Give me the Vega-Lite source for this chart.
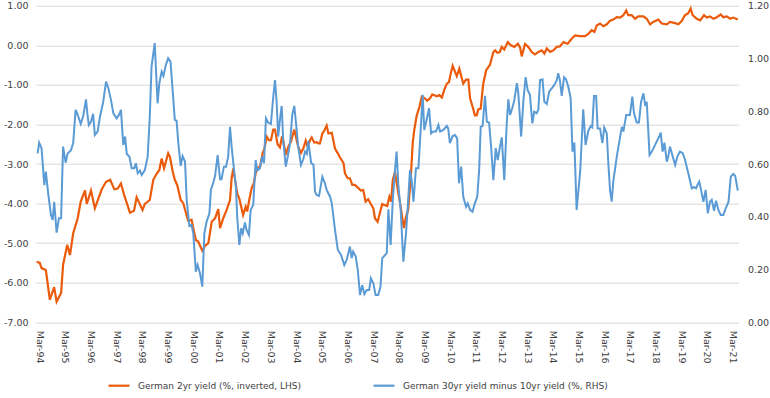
{
  "$schema": "https://vega.github.io/schema/vega-lite/v6.json",
  "width": 702.5,
  "height": 316.6,
  "autosize": {"type": "none"},
  "padding": {"left": 36, "top": 5.7, "right": 31.5, "bottom": 75.7},
  "background": "white",
  "config": {
    "font": "DejaVu Sans",
    "view": {"stroke": null},
    "axis": {"labelFont": "DejaVu Sans", "labelFontSize": 9.5, "labelColor": "#404040", "domain": false, "ticks": false, "title": null, "grid": false}
  },
  "datasets": {
    "de2y": [
      {"date":"1994-03-01","value":-5.47},{"date":"1994-04-15","value":-5.50},{"date":"1994-05-10","value":-5.63},{"date":"1994-07-10","value":-5.68},{"date":"1994-09-05","value":-6.43},{"date":"1994-11-05","value":-6.11},{"date":"1994-12-10","value":-6.48},{"date":"1995-02-12","value":-6.26},{"date":"1995-03-12","value":-5.55},{"date":"1995-05-10","value":-5.04},{"date":"1995-06-18","value":-5.30},{"date":"1995-08-03","value":-4.75},{"date":"1995-10-06","value":-4.37},{"date":"1995-11-18","value":-3.95},{"date":"1996-01-18","value":-3.67},{"date":"1996-02-12","value":-4.01},{"date":"1996-04-12","value":-3.67},{"date":"1996-06-06","value":-4.12},{"date":"1996-09-12","value":-3.64},{"date":"1996-11-12","value":-3.45},{"date":"1997-01-10","value":-3.40},{"date":"1997-03-10","value":-3.64},{"date":"1997-04-27","value":-3.62},{"date":"1997-06-12","value":-3.49},{"date":"1997-07-27","value":-3.78},{"date":"1997-10-18","value":-4.23},{"date":"1997-12-15","value":-4.18},{"date":"1998-01-21","value":-3.84},{"date":"1998-04-15","value":-4.16},{"date":"1998-05-18","value":-4.01},{"date":"1998-07-27","value":-3.91},{"date":"1998-09-15","value":-3.40},{"date":"1998-11-03","value":-3.24},{"date":"1998-12-10","value":-3.15},{"date":"1999-01-12","value":-2.86},{"date":"1999-02-15","value":-3.11},{"date":"1999-04-15","value":-2.73},{"date":"1999-05-10","value":-2.82},{"date":"1999-06-18","value":-3.19},{"date":"1999-07-18","value":-3.40},{"date":"1999-08-21","value":-3.53},{"date":"1999-10-10","value":-3.91},{"date":"1999-11-15","value":-3.99},{"date":"1999-12-24","value":-4.24},{"date":"2000-01-24","value":-4.43},{"date":"2000-03-12","value":-4.41},{"date":"2000-05-12","value":-4.92},{"date":"2000-06-15","value":-4.96},{"date":"2000-08-12","value":-5.19},{"date":"2000-09-18","value":-5.07},{"date":"2000-11-06","value":-5.00},{"date":"2000-12-24","value":-4.46},{"date":"2001-02-10","value":-4.37},{"date":"2001-03-27","value":-4.14},{"date":"2001-04-21","value":-4.62},{"date":"2001-06-06","value":-4.37},{"date":"2001-07-24","value":-4.16},{"date":"2001-09-10","value":-3.91},{"date":"2001-10-03","value":-3.36},{"date":"2001-10-27","value":-3.11},{"date":"2001-11-21","value":-3.40},{"date":"2001-12-21","value":-3.74},{"date":"2002-01-21","value":-3.88},{"date":"2002-03-15","value":-4.29},{"date":"2002-04-21","value":-4.08},{"date":"2002-05-12","value":-4.20},{"date":"2002-06-10","value":-3.91},{"date":"2002-07-15","value":-3.61},{"date":"2002-08-15","value":-3.48},{"date":"2002-09-24","value":-3.11},{"date":"2002-11-10","value":-3.07},{"date":"2002-12-18","value":-2.73},{"date":"2003-01-12","value":-2.61},{"date":"2003-02-15","value":-2.31},{"date":"2003-03-18","value":-2.40},{"date":"2003-04-15","value":-2.40},{"date":"2003-05-18","value":-2.13},{"date":"2003-06-12","value":-2.13},{"date":"2003-07-18","value":-2.50},{"date":"2003-08-21","value":-2.58},{"date":"2003-09-15","value":-2.35},{"date":"2003-10-06","value":-2.40},{"date":"2003-11-12","value":-2.77},{"date":"2003-12-18","value":-2.56},{"date":"2004-01-24","value":-2.44},{"date":"2004-03-12","value":-2.13},{"date":"2004-04-15","value":-2.40},{"date":"2004-05-06","value":-2.56},{"date":"2004-06-15","value":-2.72},{"date":"2004-07-18","value":-2.61},{"date":"2004-08-21","value":-2.41},{"date":"2004-09-18","value":-2.56},{"date":"2004-10-21","value":-2.40},{"date":"2004-11-15","value":-2.33},{"date":"2004-12-21","value":-2.46},{"date":"2005-01-24","value":-2.45},{"date":"2005-02-18","value":-2.48},{"date":"2005-03-12","value":-2.48},{"date":"2005-04-15","value":-2.23},{"date":"2005-05-12","value":-2.16},{"date":"2005-06-15","value":-2.03},{"date":"2005-07-10","value":-2.23},{"date":"2005-08-27","value":-2.21},{"date":"2005-09-18","value":-2.40},{"date":"2005-10-12","value":-2.61},{"date":"2005-11-21","value":-2.73},{"date":"2005-12-21","value":-2.83},{"date":"2006-02-10","value":-2.98},{"date":"2006-03-03","value":-3.24},{"date":"2006-04-10","value":-3.36},{"date":"2006-05-12","value":-3.36},{"date":"2006-06-15","value":-3.53},{"date":"2006-07-21","value":-3.53},{"date":"2006-09-10","value":-3.61},{"date":"2006-10-15","value":-3.67},{"date":"2006-11-18","value":-3.66},{"date":"2006-12-21","value":-3.95},{"date":"2007-01-27","value":-3.89},{"date":"2007-03-06","value":-4.01},{"date":"2007-04-10","value":-4.12},{"date":"2007-05-03","value":-4.37},{"date":"2007-06-10","value":-4.46},{"date":"2007-07-12","value":-4.24},{"date":"2007-08-15","value":-4.01},{"date":"2007-09-24","value":-4.04},{"date":"2007-10-24","value":-4.06},{"date":"2007-11-24","value":-3.83},{"date":"2007-12-18","value":-3.95},{"date":"2008-01-12","value":-3.40},{"date":"2008-02-12","value":-3.20},{"date":"2008-03-15","value":-3.57},{"date":"2008-04-24","value":-3.99},{"date":"2008-06-18","value":-4.62},{"date":"2008-07-18","value":-4.33},{"date":"2008-08-18","value":-4.16},{"date":"2008-09-24","value":-3.32},{"date":"2008-10-21","value":-2.48},{"date":"2008-11-12","value":-2.14},{"date":"2008-12-18","value":-1.77},{"date":"2009-01-24","value":-1.56},{"date":"2009-02-27","value":-1.30},{"date":"2009-04-12","value":-1.34},{"date":"2009-05-15","value":-1.40},{"date":"2009-06-24","value":-1.34},{"date":"2009-07-27","value":-1.24},{"date":"2009-09-27","value":-1.29},{"date":"2009-11-03","value":-1.26},{"date":"2009-12-10","value":-1.32},{"date":"2010-01-10","value":-1.14},{"date":"2010-02-18","value":-0.97},{"date":"2010-03-21","value":-0.93},{"date":"2010-04-15","value":-0.71},{"date":"2010-05-12","value":-0.52},{"date":"2010-07-10","value":-0.78},{"date":"2010-08-15","value":-0.59},{"date":"2010-10-10","value":-0.97},{"date":"2010-11-18","value":-0.87},{"date":"2010-12-21","value":-0.87},{"date":"2011-01-15","value":-1.34},{"date":"2011-02-21","value":-1.56},{"date":"2011-03-24","value":-1.77},{"date":"2011-04-18","value":-1.77},{"date":"2011-05-12","value":-1.62},{"date":"2011-06-15","value":-1.60},{"date":"2011-07-21","value":-0.97},{"date":"2011-09-01","value":-0.63},{"date":"2011-10-01","value":-0.55},{"date":"2011-10-24","value":-0.50},{"date":"2011-12-12","value":-0.17},{"date":"2012-01-06","value":-0.13},{"date":"2012-02-06","value":-0.19},{"date":"2012-03-12","value":-0.17},{"date":"2012-04-10","value":-0.04},{"date":"2012-05-15","value":-0.11},{"date":"2012-07-03","value":0.08},{"date":"2012-08-18","value":0.00},{"date":"2012-10-06","value":-0.04},{"date":"2012-11-24","value":0.04},{"date":"2012-12-27","value":-0.06},{"date":"2013-01-18","value":-0.28},{"date":"2013-03-06","value":0.03},{"date":"2013-04-21","value":-0.04},{"date":"2013-06-10","value":-0.17},{"date":"2013-07-24","value":-0.23},{"date":"2013-09-12","value":-0.17},{"date":"2013-11-01","value":-0.13},{"date":"2013-12-06","value":-0.21},{"date":"2014-01-10","value":-0.08},{"date":"2014-02-27","value":-0.17},{"date":"2014-04-12","value":-0.13},{"date":"2014-06-01","value":-0.04},{"date":"2014-07-15","value":-0.03},{"date":"2014-09-03","value":0.08},{"date":"2014-11-03","value":0.04},{"date":"2015-01-01","value":0.17},{"date":"2015-02-15","value":0.25},{"date":"2015-04-27","value":0.23},{"date":"2015-07-06","value":0.23},{"date":"2015-08-24","value":0.29},{"date":"2015-10-10","value":0.38},{"date":"2015-11-18","value":0.34},{"date":"2015-12-21","value":0.50},{"date":"2016-02-06","value":0.55},{"date":"2016-03-24","value":0.48},{"date":"2016-05-12","value":0.53},{"date":"2016-06-27","value":0.62},{"date":"2016-08-12","value":0.65},{"date":"2016-10-01","value":0.71},{"date":"2016-11-18","value":0.70},{"date":"2017-01-03","value":0.76},{"date":"2017-02-12","value":0.88},{"date":"2017-03-12","value":0.76},{"date":"2017-05-01","value":0.76},{"date":"2017-06-18","value":0.67},{"date":"2017-08-03","value":0.73},{"date":"2017-10-15","value":0.73},{"date":"2017-12-01","value":0.67},{"date":"2018-01-18","value":0.53},{"date":"2018-03-03","value":0.59},{"date":"2018-05-15","value":0.65},{"date":"2018-07-03","value":0.55},{"date":"2018-09-12","value":0.53},{"date":"2018-10-27","value":0.59},{"date":"2019-01-10","value":0.56},{"date":"2019-02-24","value":0.53},{"date":"2019-04-12","value":0.61},{"date":"2019-05-27","value":0.76},{"date":"2019-07-15","value":0.81},{"date":"2019-08-18","value":0.93},{"date":"2019-09-15","value":0.76},{"date":"2019-11-12","value":0.67},{"date":"2020-01-01","value":0.63},{"date":"2020-02-24","value":0.76},{"date":"2020-04-03","value":0.70},{"date":"2020-05-18","value":0.73},{"date":"2020-07-06","value":0.67},{"date":"2020-08-24","value":0.71},{"date":"2020-10-18","value":0.78},{"date":"2020-11-24","value":0.71},{"date":"2021-01-12","value":0.73},{"date":"2021-03-01","value":0.67},{"date":"2021-04-15","value":0.70},{"date":"2021-06-18","value":0.65}
    ],
    "spread": [
      {"date":"1994-03-15","value":0.640},{"date":"1994-04-06","value":0.681},{"date":"1994-05-10","value":0.660},{"date":"1994-06-18","value":0.520},{"date":"1994-07-10","value":0.571},{"date":"1994-08-12","value":0.489},{"date":"1994-09-21","value":0.407},{"date":"1994-10-15","value":0.388},{"date":"1994-11-06","value":0.457},{"date":"1994-12-10","value":0.340},{"date":"1995-01-12","value":0.394},{"date":"1995-02-12","value":0.394},{"date":"1995-03-12","value":0.666},{"date":"1995-04-18","value":0.605},{"date":"1995-05-15","value":0.640},{"date":"1995-07-01","value":0.651},{"date":"1995-08-03","value":0.679},{"date":"1995-09-06","value":0.805},{"date":"1995-10-06","value":0.786},{"date":"1995-11-18","value":0.752},{"date":"1995-12-24","value":0.782},{"date":"1996-02-01","value":0.845},{"date":"1996-02-24","value":0.782},{"date":"1996-03-12","value":0.748},{"date":"1996-04-12","value":0.760},{"date":"1996-05-12","value":0.790},{"date":"1996-06-06","value":0.710},{"date":"1996-07-15","value":0.723},{"date":"1996-08-18","value":0.779},{"date":"1996-10-03","value":0.836},{"date":"1996-11-12","value":0.912},{"date":"1996-12-15","value":0.887},{"date":"1997-01-21","value":0.843},{"date":"1997-02-24","value":0.792},{"date":"1997-04-12","value":0.773},{"date":"1997-05-15","value":0.786},{"date":"1997-06-12","value":0.805},{"date":"1997-07-15","value":0.672},{"date":"1997-08-10","value":0.704},{"date":"1997-09-03","value":0.638},{"date":"1997-10-10","value":0.628},{"date":"1997-11-12","value":0.584},{"date":"1997-12-18","value":0.584},{"date":"1998-01-10","value":0.603},{"date":"1998-02-06","value":0.565},{"date":"1998-03-10","value":0.575},{"date":"1998-04-03","value":0.558},{"date":"1998-05-18","value":0.577},{"date":"1998-06-27","value":0.628},{"date":"1998-07-27","value":0.779},{"date":"1998-08-21","value":0.969},{"date":"1998-10-05","value":1.058},{"date":"1998-11-15","value":0.830},{"date":"1998-12-10","value":0.906},{"date":"1999-01-12","value":0.950},{"date":"1999-02-06","value":0.934},{"date":"1999-03-12","value":0.975},{"date":"1999-04-15","value":1.001},{"date":"1999-05-18","value":0.988},{"date":"1999-06-24","value":0.855},{"date":"1999-07-18","value":0.767},{"date":"1999-08-12","value":0.764},{"date":"1999-09-06","value":0.679},{"date":"1999-10-10","value":0.593},{"date":"1999-11-06","value":0.630},{"date":"1999-12-10","value":0.609},{"date":"2000-01-03","value":0.464},{"date":"2000-02-10","value":0.365},{"date":"2000-03-12","value":0.369},{"date":"2000-04-06","value":0.337},{"date":"2000-05-12","value":0.192},{"date":"2000-06-06","value":0.217},{"date":"2000-07-10","value":0.186},{"date":"2000-08-12","value":0.135},{"date":"2000-09-10","value":0.337},{"date":"2000-10-12","value":0.381},{"date":"2000-11-21","value":0.413},{"date":"2000-12-12","value":0.502},{"date":"2001-01-15","value":0.529},{"date":"2001-02-10","value":0.555},{"date":"2001-03-18","value":0.634},{"date":"2001-04-21","value":0.542},{"date":"2001-05-12","value":0.542},{"date":"2001-06-15","value":0.590},{"date":"2001-07-15","value":0.590},{"date":"2001-08-15","value":0.628},{"date":"2001-09-10","value":0.741},{"date":"2001-10-03","value":0.666},{"date":"2001-10-27","value":0.603},{"date":"2001-12-03","value":0.514},{"date":"2001-12-21","value":0.400},{"date":"2002-01-21","value":0.293},{"date":"2002-02-15","value":0.356},{"date":"2002-03-10","value":0.337},{"date":"2002-04-10","value":0.378},{"date":"2002-05-03","value":0.350},{"date":"2002-06-06","value":0.331},{"date":"2002-07-01","value":0.426},{"date":"2002-08-06","value":0.445},{"date":"2002-09-10","value":0.615},{"date":"2002-10-03","value":0.575},{"date":"2002-11-10","value":0.584},{"date":"2002-12-10","value":0.628},{"date":"2003-01-06","value":0.603},{"date":"2003-02-03","value":0.773},{"date":"2003-03-06","value":0.757},{"date":"2003-04-15","value":0.752},{"date":"2003-05-18","value":0.855},{"date":"2003-06-12","value":0.918},{"date":"2003-07-06","value":0.830},{"date":"2003-07-27","value":0.704},{"date":"2003-08-21","value":0.767},{"date":"2003-09-15","value":0.820},{"date":"2003-10-06","value":0.691},{"date":"2003-11-12","value":0.590},{"date":"2003-12-10","value":0.628},{"date":"2004-01-12","value":0.679},{"date":"2004-02-12","value":0.786},{"date":"2004-03-12","value":0.820},{"date":"2004-04-15","value":0.729},{"date":"2004-05-06","value":0.666},{"date":"2004-06-15","value":0.596},{"date":"2004-07-18","value":0.618},{"date":"2004-08-12","value":0.647},{"date":"2004-09-06","value":0.638},{"date":"2004-09-27","value":0.688},{"date":"2004-11-06","value":0.605},{"date":"2004-12-10","value":0.596},{"date":"2005-01-01","value":0.495},{"date":"2005-01-24","value":0.483},{"date":"2005-02-27","value":0.479},{"date":"2005-04-15","value":0.552},{"date":"2005-05-21","value":0.527},{"date":"2005-06-15","value":0.502},{"date":"2005-08-03","value":0.476},{"date":"2005-08-27","value":0.451},{"date":"2005-10-12","value":0.350},{"date":"2005-11-21","value":0.274},{"date":"2006-01-06","value":0.255},{"date":"2006-02-21","value":0.217},{"date":"2006-03-27","value":0.236},{"date":"2006-05-12","value":0.287},{"date":"2006-06-06","value":0.243},{"date":"2006-06-27","value":0.268},{"date":"2006-08-03","value":0.249},{"date":"2006-09-01","value":0.198},{"date":"2006-10-03","value":0.103},{"date":"2006-11-03","value":0.141},{"date":"2006-12-03","value":0.107},{"date":"2007-01-06","value":0.122},{"date":"2007-02-10","value":0.122},{"date":"2007-03-06","value":0.167},{"date":"2007-04-10","value":0.148},{"date":"2007-05-12","value":0.103},{"date":"2007-06-18","value":0.103},{"date":"2007-07-21","value":0.135},{"date":"2007-08-15","value":0.243},{"date":"2007-10-18","value":0.262},{"date":"2007-11-10","value":0.428},{"date":"2007-12-12","value":0.293},{"date":"2008-01-12","value":0.464},{"date":"2008-02-12","value":0.577},{"date":"2008-03-06","value":0.647},{"date":"2008-04-01","value":0.514},{"date":"2008-05-03","value":0.426},{"date":"2008-06-10","value":0.230},{"date":"2008-07-18","value":0.337},{"date":"2008-08-18","value":0.464},{"date":"2008-09-12","value":0.577},{"date":"2008-10-06","value":0.539},{"date":"2008-11-01","value":0.457},{"date":"2008-12-06","value":0.584},{"date":"2009-01-10","value":0.584},{"date":"2009-02-03","value":0.691},{"date":"2009-03-12","value":0.862},{"date":"2009-04-03","value":0.729},{"date":"2009-05-06","value":0.767},{"date":"2009-06-10","value":0.811},{"date":"2009-07-10","value":0.716},{"date":"2009-08-10","value":0.723},{"date":"2009-09-18","value":0.723},{"date":"2009-10-21","value":0.748},{"date":"2009-11-15","value":0.723},{"date":"2010-01-01","value":0.729},{"date":"2010-02-18","value":0.744},{"date":"2010-03-10","value":0.735},{"date":"2010-04-03","value":0.679},{"date":"2010-05-12","value":0.706},{"date":"2010-06-15","value":0.710},{"date":"2010-07-15","value":0.697},{"date":"2010-08-10","value":0.527},{"date":"2010-09-10","value":0.590},{"date":"2010-10-10","value":0.476},{"date":"2010-11-18","value":0.438},{"date":"2010-12-12","value":0.451},{"date":"2011-01-15","value":0.426},{"date":"2011-02-18","value":0.419},{"date":"2011-03-24","value":0.451},{"date":"2011-04-27","value":0.476},{"date":"2011-05-24","value":0.577},{"date":"2011-06-15","value":0.741},{"date":"2011-07-12","value":0.744},{"date":"2011-08-15","value":0.858},{"date":"2011-09-10","value":0.760},{"date":"2011-10-12","value":0.757},{"date":"2011-11-10","value":0.666},{"date":"2011-12-12","value":0.539},{"date":"2012-01-15","value":0.660},{"date":"2012-02-12","value":0.615},{"date":"2012-03-15","value":0.666},{"date":"2012-04-10","value":0.701},{"date":"2012-05-15","value":0.539},{"date":"2012-06-18","value":0.748},{"date":"2012-07-12","value":0.845},{"date":"2012-08-06","value":0.786},{"date":"2012-09-06","value":0.811},{"date":"2012-10-06","value":0.843},{"date":"2012-11-10","value":0.906},{"date":"2012-12-01","value":0.868},{"date":"2013-01-10","value":0.704},{"date":"2013-02-12","value":0.843},{"date":"2013-03-15","value":0.929},{"date":"2013-04-12","value":0.881},{"date":"2013-05-15","value":0.862},{"date":"2013-06-18","value":0.754},{"date":"2013-07-15","value":0.798},{"date":"2013-08-18","value":0.792},{"date":"2013-09-12","value":0.807},{"date":"2013-10-06","value":0.918},{"date":"2013-11-10","value":0.921},{"date":"2013-12-06","value":0.836},{"date":"2014-01-10","value":0.827},{"date":"2014-02-12","value":0.874},{"date":"2014-03-21","value":0.887},{"date":"2014-04-27","value":0.900},{"date":"2014-06-01","value":0.918},{"date":"2014-06-21","value":0.944},{"date":"2014-07-15","value":0.918},{"date":"2014-08-10","value":0.858},{"date":"2014-09-12","value":0.929},{"date":"2014-10-10","value":0.921},{"date":"2014-11-12","value":0.893},{"date":"2014-12-15","value":0.849},{"date":"2015-01-10","value":0.647},{"date":"2015-02-06","value":0.681},{"date":"2015-03-10","value":0.426},{"date":"2015-05-01","value":0.577},{"date":"2015-06-12","value":0.807},{"date":"2015-07-15","value":0.672},{"date":"2015-08-24","value":0.726},{"date":"2015-09-27","value":0.744},{"date":"2015-10-18","value":0.739},{"date":"2015-11-12","value":0.858},{"date":"2015-12-12","value":0.858},{"date":"2016-01-03","value":0.735},{"date":"2016-02-06","value":0.735},{"date":"2016-03-10","value":0.679},{"date":"2016-04-06","value":0.738},{"date":"2016-05-12","value":0.716},{"date":"2016-06-03","value":0.603},{"date":"2016-06-27","value":0.502},{"date":"2016-07-21","value":0.457},{"date":"2016-08-12","value":0.533},{"date":"2016-10-01","value":0.628},{"date":"2016-11-06","value":0.685},{"date":"2016-12-12","value":0.741},{"date":"2017-01-03","value":0.723},{"date":"2017-02-12","value":0.786},{"date":"2017-03-12","value":0.786},{"date":"2017-04-06","value":0.786},{"date":"2017-05-10","value":0.855},{"date":"2017-06-03","value":0.792},{"date":"2017-07-12","value":0.757},{"date":"2017-08-12","value":0.757},{"date":"2017-09-12","value":0.836},{"date":"2017-10-15","value":0.868},{"date":"2017-11-10","value":0.820},{"date":"2017-12-01","value":0.836},{"date":"2018-01-10","value":0.634},{"date":"2018-02-12","value":0.647},{"date":"2018-03-18","value":0.666},{"date":"2018-04-21","value":0.685},{"date":"2018-05-27","value":0.704},{"date":"2018-06-18","value":0.719},{"date":"2018-07-15","value":0.647},{"date":"2018-08-10","value":0.681},{"date":"2018-09-12","value":0.609},{"date":"2018-10-03","value":0.628},{"date":"2018-10-27","value":0.666},{"date":"2018-12-06","value":0.628},{"date":"2019-01-10","value":0.596},{"date":"2019-02-10","value":0.628},{"date":"2019-03-18","value":0.647},{"date":"2019-04-27","value":0.641},{"date":"2019-05-27","value":0.618},{"date":"2019-07-15","value":0.565},{"date":"2019-09-03","value":0.508},{"date":"2019-10-06","value":0.512},{"date":"2019-11-03","value":0.508},{"date":"2019-11-21","value":0.520},{"date":"2019-12-18","value":0.533},{"date":"2020-01-12","value":0.502},{"date":"2020-02-15","value":0.457},{"date":"2020-03-18","value":0.502},{"date":"2020-04-18","value":0.413},{"date":"2020-05-18","value":0.457},{"date":"2020-06-12","value":0.464},{"date":"2020-07-15","value":0.423},{"date":"2020-08-12","value":0.461},{"date":"2020-09-15","value":0.426},{"date":"2020-10-18","value":0.407},{"date":"2020-11-24","value":0.407},{"date":"2021-01-03","value":0.436},{"date":"2021-02-06","value":0.457},{"date":"2021-03-10","value":0.552},{"date":"2021-04-15","value":0.562},{"date":"2021-05-12","value":0.555},{"date":"2021-06-18","value":0.499}
    ]
  },
  "encoding": {
    "x": {
      "field": "date", "type": "temporal",
      "scale": {"type": "utc", "domain": [{"year": 1994, "month": 2, "date": 20, "utc": true}, {"year": 2021, "month": 6, "date": 28, "utc": true}]},
      "axis": {
        "values": [
          {"year":1994,"month":3,"date":1,"utc":true},{"year":1995,"month":3,"date":1,"utc":true},{"year":1996,"month":3,"date":1,"utc":true},{"year":1997,"month":3,"date":1,"utc":true},{"year":1998,"month":3,"date":1,"utc":true},{"year":1999,"month":3,"date":1,"utc":true},{"year":2000,"month":3,"date":1,"utc":true},{"year":2001,"month":3,"date":1,"utc":true},{"year":2002,"month":3,"date":1,"utc":true},{"year":2003,"month":3,"date":1,"utc":true},{"year":2004,"month":3,"date":1,"utc":true},{"year":2005,"month":3,"date":1,"utc":true},{"year":2006,"month":3,"date":1,"utc":true},{"year":2007,"month":3,"date":1,"utc":true},{"year":2008,"month":3,"date":1,"utc":true},{"year":2009,"month":3,"date":1,"utc":true},{"year":2010,"month":3,"date":1,"utc":true},{"year":2011,"month":3,"date":1,"utc":true},{"year":2012,"month":3,"date":1,"utc":true},{"year":2013,"month":3,"date":1,"utc":true},{"year":2014,"month":3,"date":1,"utc":true},{"year":2015,"month":3,"date":1,"utc":true},{"year":2016,"month":3,"date":1,"utc":true},{"year":2017,"month":3,"date":1,"utc":true},{"year":2018,"month":3,"date":1,"utc":true},{"year":2019,"month":3,"date":1,"utc":true},{"year":2020,"month":3,"date":1,"utc":true},{"year":2021,"month":3,"date":1,"utc":true}
        ],
        "labelExpr": "utcFormat(datum.value, '%b-%y')",
        "labelAngle": 90, "labelPadding": 8, "labelOffset": 2.5, "labelOverlap": false, "labelBound": false, "labelFlush": false
      }
    }
  },
  "layer": [
    {
      "data": {"name": "de2y"},
      "mark": {"type": "line", "strokeWidth": 2.2},
      "encoding": {
        "y": {
          "field": "value", "type": "quantitative",
          "scale": {"domain": [-7, 1], "nice": false, "zero": false},
          "axis": {"orient": "left", "values": [-7, -6, -5, -4, -3, -2, -1, 0, 1], "format": ".2f", "labelExpr": "replace(datum.label, '\u2212', '-')", "grid": true, "gridColor": "#D9D9D9", "gridWidth": 1, "labelPadding": 8}
        },
        "color": {
          "datum": "German 2yr yield (%, inverted, LHS)", "type": "nominal",
          "scale": {"domain": ["German 2yr yield (%, inverted, LHS)", "German 30yr yield minus 10yr yield (%, RHS)"], "range": ["#EA5B0C", "#5B9BD5"]},
          "legend": {"orient": "none", "legendX": 71, "legendY": 368, "direction": "horizontal", "title": null, "symbolType": "stroke", "symbolSize": 441, "symbolStrokeWidth": 2.2, "labelFontSize": 9, "labelFont": "DejaVu Sans", "labelColor": "#404040", "labelLimit": 400, "columnPadding": 67, "labelOffset": 7}
        }
      }
    },
    {
      "data": {"name": "spread"},
      "mark": {"type": "line", "strokeWidth": 2},
      "encoding": {
        "y": {
          "field": "value", "type": "quantitative",
          "scale": {"domain": [0, 1.2], "nice": false},
          "axis": {"orient": "right", "values": [0, 0.2, 0.4, 0.6, 0.8, 1.0, 1.2], "format": ".2f", "labelPadding": 9}
        },
        "color": {"datum": "German 30yr yield minus 10yr yield (%, RHS)", "type": "nominal"}
      }
    }
  ],
  "resolve": {"scale": {"y": "independent"}}
}
